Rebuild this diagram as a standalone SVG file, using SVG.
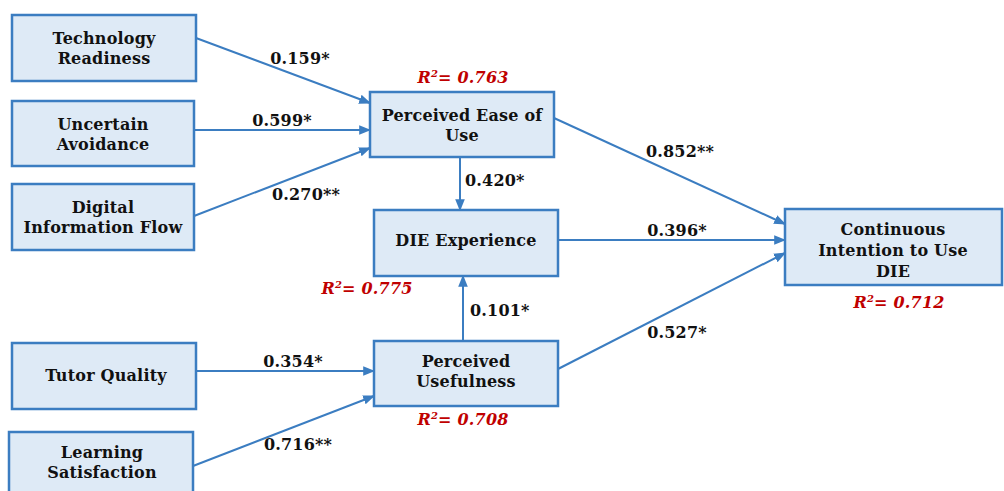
<svg xmlns="http://www.w3.org/2000/svg" width="1004" height="491" viewBox="0 0 1004 491">
<defs>
<style>
.box{fill:#deeaf6;stroke:#3b7dc1;stroke-width:2.5}
.t{font-family:'DejaVu Serif',serif;font-weight:bold;font-size:16px;fill:#111;text-anchor:middle;letter-spacing:0.2px}
.l{font-family:'DejaVu Serif',serif;font-weight:bold;font-size:16px;fill:#111;letter-spacing:0.2px}
.r{font-family:'DejaVu Serif',serif;font-weight:bold;font-style:italic;font-size:16px;fill:#c00000;letter-spacing:0.2px;text-anchor:middle}
.c{stroke:#3b7dc1;stroke-width:2;fill:none;marker-end:url(#ah)}
</style>
<marker id="ah" viewBox="0 0 10 10" refX="9" refY="5" markerWidth="6" markerHeight="6" markerUnits="strokeWidth" orient="auto">
<path d="M0,1 L10,5 L0,9 z" fill="#3b7dc1"/>
</marker>
</defs>
<rect width="1004" height="491" fill="#fff"/>
<g id="connectors">
<line class="c" x1="196" y1="38" x2="370" y2="103"/>
<line class="c" x1="194" y1="130" x2="370" y2="130"/>
<line class="c" x1="194" y1="216" x2="370" y2="148"/>
<line class="c" x1="460" y1="157" x2="460" y2="210"/>
<line class="c" x1="554" y1="118" x2="785" y2="224"/>
<line class="c" x1="558" y1="240" x2="785" y2="240"/>
<line class="c" x1="558" y1="369" x2="785" y2="253"/>
<line class="c" x1="463" y1="341" x2="463" y2="276"/>
<line class="c" x1="196" y1="371" x2="374" y2="371"/>
<line class="c" x1="193" y1="466" x2="374" y2="396"/>
<text class="t" x="300" y="64">0.159*</text>
<text class="t" x="282" y="126">0.599*</text>
<text class="t" x="306" y="200">0.270**</text>
<text class="l" x="465" y="186">0.420*</text>
<text class="t" x="680" y="157">0.852**</text>
<text class="t" x="677" y="236">0.396*</text>
<text class="t" x="677" y="338">0.527*</text>
<text class="l" x="470" y="316">0.101*</text>
<text class="t" x="293" y="367">0.354*</text>
<text class="t" x="298" y="450">0.716**</text>
</g>
<g id="tr"><rect class="box" x="12" y="15" width="184" height="66"/><text class="t" x="104" y="44">Technology</text><text class="t" x="104" y="64">Readiness</text></g>
<g id="ua"><rect class="box" x="12" y="101" width="182" height="65"/><text class="t" x="103" y="130">Uncertain</text><text class="t" x="103" y="150">Avoidance</text></g>
<g id="dif"><rect class="box" x="12" y="184" width="182" height="66"/><text class="t" x="103" y="213">Digital</text><text class="t" x="103" y="233">Information Flow</text></g>
<g id="peou"><rect class="box" x="370" y="92" width="184" height="65"/><text class="t" x="462" y="121">Perceived Ease of</text><text class="t" x="462" y="141">Use</text><text class="r" x="463" y="83">R<tspan font-size="10" dy="-6">2</tspan><tspan dy="6">= 0.763</tspan></text></g>
<g id="die"><rect class="box" x="374" y="210" width="184" height="66"/><text class="t" x="466" y="246">DIE Experience</text><text class="r" x="367" y="294">R<tspan font-size="10" dy="-6">2</tspan><tspan dy="6">= 0.775</tspan></text></g>
<g id="ci"><rect class="box" x="785" y="209" width="217" height="76"/><text class="t" x="893" y="235">Continuous</text><text class="t" x="893" y="256">Intention to Use</text><text class="t" x="893" y="277">DIE</text><text class="r" x="899" y="308">R<tspan font-size="10" dy="-6">2</tspan><tspan dy="6">= 0.712</tspan></text></g>
<g id="tq"><rect class="box" x="12" y="343" width="184" height="66"/><text class="t" x="106" y="381">Tutor Quality</text></g>
<g id="pu"><rect class="box" x="374" y="341" width="184" height="65"/><text class="t" x="466" y="367">Perceived</text><text class="t" x="466" y="387">Usefulness</text><text class="r" x="463" y="425">R<tspan font-size="10" dy="-6">2</tspan><tspan dy="6">= 0.708</tspan></text></g>
<g id="ls"><rect class="box" x="9" y="432" width="184" height="66"/><text class="t" x="102" y="458">Learning</text><text class="t" x="102" y="478">Satisfaction</text></g>
</svg>
